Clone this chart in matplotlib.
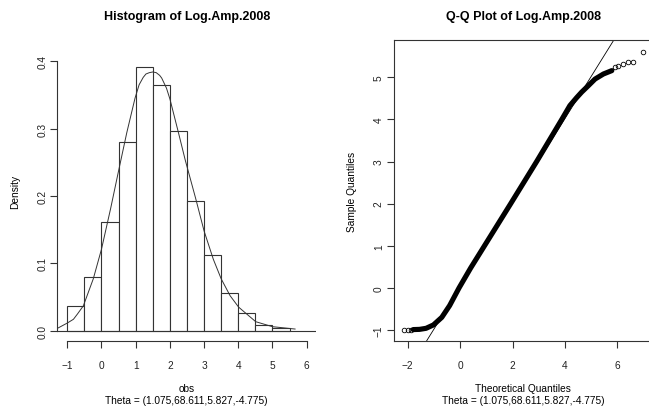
import matplotlib
matplotlib.use("Agg")
import matplotlib.pyplot as plt

plt.rcParams['font.family'] = ['Liberation Sans', 'DejaVu Sans']

# histogram of Log.Amp.2008 (bin width 0.5)
bin_edges = [-1.0, -0.5, 0.0, 0.5, 1.0, 1.5, 2.0, 2.5, 3.0, 3.5, 4.0, 4.5, 5.0, 5.5]
bin_density = [0.037, 0.079, 0.161, 0.280, 0.391, 0.365, 0.297, 0.192,
               0.112, 0.0555, 0.026, 0.009, 0.0035]

# fitted density curve
curve_x = [-1.29, -1.0, -0.82, -0.7, -0.53, -0.24, 0.0, 0.27, 0.49, 0.74, 0.98,
           1.1, 1.22, 1.3, 1.4, 1.50, 1.6, 1.7, 1.76, 1.9, 2.0, 2.25, 2.45, 2.75,
           3.0, 3.27, 3.50, 3.76, 4.01, 4.51, 5.0, 5.66]
curve_y = [0.0035, 0.0114, 0.017, 0.025, 0.037, 0.077, 0.121, 0.182, 0.235, 0.294,
           0.345, 0.365, 0.376, 0.381, 0.383, 0.384, 0.383, 0.379, 0.375, 0.360,
           0.344, 0.294, 0.253, 0.197, 0.148, 0.106, 0.077, 0.052, 0.035, 0.0134,
           0.006, 0.0025]

# Q-Q plot: dense band of points, then the sparse tails
band_theory = [-1.79, -1.55, -1.30, -1.02, -0.70, -0.40, -0.04, 0.40, 0.95,
               1.93, 2.92, 3.88, 4.19, 4.45, 4.64, 4.89, 5.15, 5.47, 5.79]
band_sample = [-0.99, -0.985, -0.96, -0.88, -0.70, -0.42, 0.0, 0.47, 1.02,
               2.0, 3.0, 4.0, 4.33, 4.52, 4.65, 4.80, 4.96, 5.08, 5.16]
tail_theory = [-2.16, -2.0, -1.89, 5.91, 6.04, 6.23, 6.42, 6.61, 6.97]
tail_sample = [-0.99, -0.99, -0.99, 5.24, 5.28, 5.32, 5.37, 5.37, 5.61]

theta_txt = "Theta = (1.075,68.611,5.827,-4.775)"

W, H = 649, 410
fig = plt.figure(figsize=(W / 100, H / 100), dpi=100)

# plot regions in pixels (left, top, right, bottom)
def region(l, t, r, b):
    return [l / W, 1 - b / H, (r - l) / W, (b - t) / H]

lab_fs = 7.3
title_fs = 9

def style_axis(ax):
    ax.tick_params(axis='both', direction='out', length=4.8, width=0.8,
                   labelsize=lab_fs, color='#333333', labelcolor='#222222')
    ax.tick_params(axis='x', pad=9)
    ax.tick_params(axis='y', pad=2.5)
    for lbl in ax.get_yticklabels():
        lbl.set_rotation(90)
        lbl.set_va('center')
    for sp in ax.spines.values():
        sp.set_linewidth(0.8)
        sp.set_color('#333333')

# ---- histogram ----
ax1 = fig.add_axes(region(57.3, 41.3, 316.0, 341.7))
ax1.hist(bin_edges[:-1], bins=bin_edges, weights=bin_density,
         facecolor='white', edgecolor='#333333', linewidth=0.8)
ax1.plot(curve_x, curve_y, color='#333333', linewidth=0.7)
ax1.axhline(0, color='#333333', linewidth=0.8)
ax1.set_xlim(-1.292, 6.272)
ax1.set_ylim(-0.0148, 0.431)
ax1.set_xticks([-1, 0, 1, 2, 3, 4, 5, 6])
ax1.set_yticks([0.0, 0.1, 0.2, 0.3, 0.4])
ax1.set_yticklabels(['0.0', '0.1', '0.2', '0.3', '0.4'])
ax1.spines['top'].set_visible(False)
ax1.spines['right'].set_visible(False)
ax1.spines['left'].set_bounds(0, 0.4)
ax1.spines['bottom'].set_bounds(-1, 6)
style_axis(ax1)
ax1.set_title("Histogram of Log.Amp.2008", fontsize=title_fs, fontweight='bold', pad=15)
ax1.set_xlabel("obs\n" + theta_txt, fontsize=lab_fs, linespacing=1.25)
ax1.xaxis.set_label_coords(0.5, -0.141)
ax1.set_ylabel("Density", fontsize=lab_fs)
ax1.yaxis.set_label_coords(-0.163, 0.5)
ax1.yaxis.label.set_va('center')

# ---- Q-Q plot ----
ax2 = fig.add_axes(region(394.0, 41.3, 652.7, 341.7))
ax2.plot(band_theory, band_sample, color='black', linewidth=3.7,
         solid_capstyle='round', solid_joinstyle='round')
ax2.plot(tail_theory, tail_sample, linestyle='none', marker='o', markersize=3.3,
         markerfacecolor='none', markeredgecolor='black', markeredgewidth=0.6)
ax2.axline((0, 0.02), slope=1.0, color='black', linewidth=0.6)
ax2.set_xlim(-2.523, 7.35)
ax2.set_ylim(-1.254, 5.88)
ax2.set_xticks([-2, 0, 2, 4, 6])
ax2.set_yticks([-1, 0, 1, 2, 3, 4, 5])
style_axis(ax2)
ax2.set_title("Q-Q Plot of Log.Amp.2008", fontsize=title_fs, fontweight='bold', pad=15)
ax2.set_xlabel("Theoretical Quantiles\n" + theta_txt, fontsize=lab_fs, linespacing=1.25)
ax2.xaxis.set_label_coords(0.5, -0.141)
ax2.set_ylabel("Sample Quantiles", fontsize=lab_fs)
ax2.yaxis.set_label_coords(-0.163, 0.5)
ax2.yaxis.label.set_va('center')

fig.savefig("out.png", dpi=100)
